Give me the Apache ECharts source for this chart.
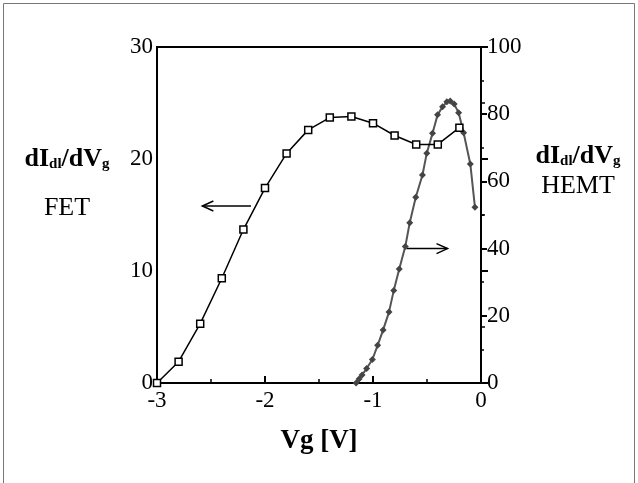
<!DOCTYPE html>
<html lang="en">
<head>
    <meta charset="UTF-8">
    <title>dI/dVg FET vs HEMT</title>
    <script src="https://cdn.jsdelivr.net/npm/echarts@6/dist/echarts.min.js"></script>
    <style>
        html, body { margin: 0; padding: 0; background: #fff; }
        .chart { width: 638px; height: 483px; }
    </style>
</head>
<body>
<div class="chart"></div>
<script>
    let chart = echarts.init(document.querySelector('.chart'));

    // FET (left axis), open squares
    let fetVg = [-3, -2.8, -2.6, -2.4, -2.2, -2.0, -1.8, -1.6, -1.4, -1.2, -1.0, -0.8, -0.6, -0.4, -0.2];
    let fetVal = [0, 1.9, 5.3, 9.35, 13.7, 17.4, 20.5, 22.6, 23.7, 23.8, 23.2, 22.1, 21.3, 21.3, 22.8];

    // HEMT (right axis), filled diamonds
    let hemtVg = [-1.156, -1.129, -1.101, -1.059, -1.006, -0.957, -0.906, -0.852, -0.808, -0.757,
        -0.701, -0.660, -0.604, -0.542, -0.502, -0.449, -0.402, -0.356, -0.316, -0.285,
        -0.248, -0.207, -0.161, -0.099, -0.056];
    let hemtVal = [0, 1.2, 2.4, 4.3, 7.0, 11.2, 15.8, 21.1, 27.5, 33.9,
        40.6, 47.7, 55.3, 61.9, 68.4, 74.3, 79.8, 82.2, 83.7, 83.9,
        83.0, 80.4, 74.5, 65.2, 52.3];

    let serif = '"Liberation Serif", "DejaVu Serif", serif';
    let labelStyle = {color: '#000', fontSize: 23, fontFamily: serif};

    let option = {
        animation: false,
        grid: {
            left: 157, right: 157, top: 47, bottom: 100,
            show: true, borderColor: '#000', borderWidth: 2
        },
        xAxis: {
            type: 'value',
            min: -3, max: 0, interval: 1,
            name: 'Vg [V]',
            nameLocation: 'middle',
            nameGap: 45,
            nameTextStyle: {color: '#000', fontSize: 27, fontWeight: 'bold', fontFamily: serif},
            axisLine: {lineStyle: {color: '#000', width: 2}},
            axisTick: {inside: true, length: 7, lineStyle: {color: '#000', width: 2}},
            minorTick: {show: true, splitNumber: 2, length: 4, lineStyle: {color: '#000', width: 1.5}},
            splitLine: {show: false},
            axisLabel: Object.assign({margin: 6}, labelStyle)
        },
        yAxis: [
            {
                type: 'value',
                min: 0, max: 30, interval: 10,
                axisLine: {show: true, lineStyle: {color: '#000', width: 2}},
                axisTick: {show: true, inside: true, length: 7, lineStyle: {color: '#000', width: 2}},
                minorTick: {show: true, splitNumber: 2, length: 4, lineStyle: {color: '#000', width: 1.5}},
                splitLine: {show: false},
                axisLabel: Object.assign({margin: 4}, labelStyle)
            },
            {
                type: 'value',
                min: 0, max: 100, interval: 20,
                axisLine: {show: true, lineStyle: {color: '#000', width: 2}},
                axisTick: {show: true, inside: false, length: 6, lineStyle: {color: '#000', width: 2}},
                minorTick: {show: true, splitNumber: 2, length: 3, lineStyle: {color: '#000', width: 1.5}},
                splitLine: {show: false},
                axisLabel: Object.assign({margin: 6}, labelStyle)
            }
        ],
        series: [
            {
                name: 'FET',
                type: 'line',
                yAxisIndex: 0,
                data: fetVg.map((v, i) => [v, fetVal[i]]),
                symbol: 'rect',
                symbolSize: 7,
                showAllSymbol: true,
                lineStyle: {color: '#000', width: 1.5},
                itemStyle: {color: '#fff', borderColor: '#000', borderWidth: 1.5},
                z: 3
            },
            {
                name: 'HEMT',
                type: 'line',
                yAxisIndex: 1,
                data: hemtVg.map((v, i) => [v, hemtVal[i]]),
                symbol: 'diamond',
                symbolSize: 7,
                showAllSymbol: true,
                lineStyle: {color: '#555', width: 2},
                itemStyle: {color: '#444'},
                z: 2
            }
        ]
    };

    chart.setOption(option);

    // 箭头: 从曲线指向对应的坐标轴
    function arrow(from, to) {
        let dir = to[0] > from[0] ? 1 : -1;
        return [
            {type: 'line', shape: {x1: from[0], y1: from[1], x2: to[0], y2: to[1]}, style: {stroke: '#000', lineWidth: 1.5}},
            {type: 'polyline', shape: {points: [[to[0] - dir * 11, to[1] - 5], to, [to[0] - dir * 11, to[1] + 5]]},
                style: {stroke: '#000', lineWidth: 1.5, fill: null}}
        ];
    }
    let leftFrom = chart.convertToPixel({xAxisIndex: 0, yAxisIndex: 0}, [-2.13, 15.8]);
    let leftTo = chart.convertToPixel({xAxisIndex: 0, yAxisIndex: 0}, [-2.58, 15.8]);
    let rightFrom = chart.convertToPixel({xAxisIndex: 0, yAxisIndex: 1}, [-0.69, 40]);
    let rightTo = chart.convertToPixel({xAxisIndex: 0, yAxisIndex: 1}, [-0.31, 40]);

    let rich = {
        b: {fontSize: 26, fontWeight: 'bold', fontFamily: serif, color: '#000'},
        s: {fontSize: 15, fontWeight: 'bold', fontFamily: serif, color: '#000', padding: [10, 0, 0, 0]}
    };

    chart.setOption({
        graphic: [
            {type: 'rect', shape: {x: 3.5, y: 3.5, width: 631, height: 500}, style: {stroke: '#777', lineWidth: 1, fill: null}, silent: true},
            {type: 'text', x: 67, y: 172, style: {text: '{b|dI}{s|dl}{b|/dV}{s|g}', rich: rich, align: 'center', verticalAlign: 'bottom'}},
            {type: 'text', x: 67, y: 221, style: {text: 'FET', fontSize: 26, fontFamily: serif, fill: '#000', align: 'center', verticalAlign: 'bottom'}},
            {type: 'text', x: 578, y: 169, style: {text: '{b|dI}{s|dl}{b|/dV}{s|g}', rich: rich, align: 'center', verticalAlign: 'bottom'}},
            {type: 'text', x: 578, y: 199, style: {text: 'HEMT', fontSize: 26, fontFamily: serif, fill: '#000', align: 'center', verticalAlign: 'bottom'}}
        ].concat(arrow(leftFrom, leftTo), arrow(rightFrom, rightTo))
    });
</script>
</body>
</html>
